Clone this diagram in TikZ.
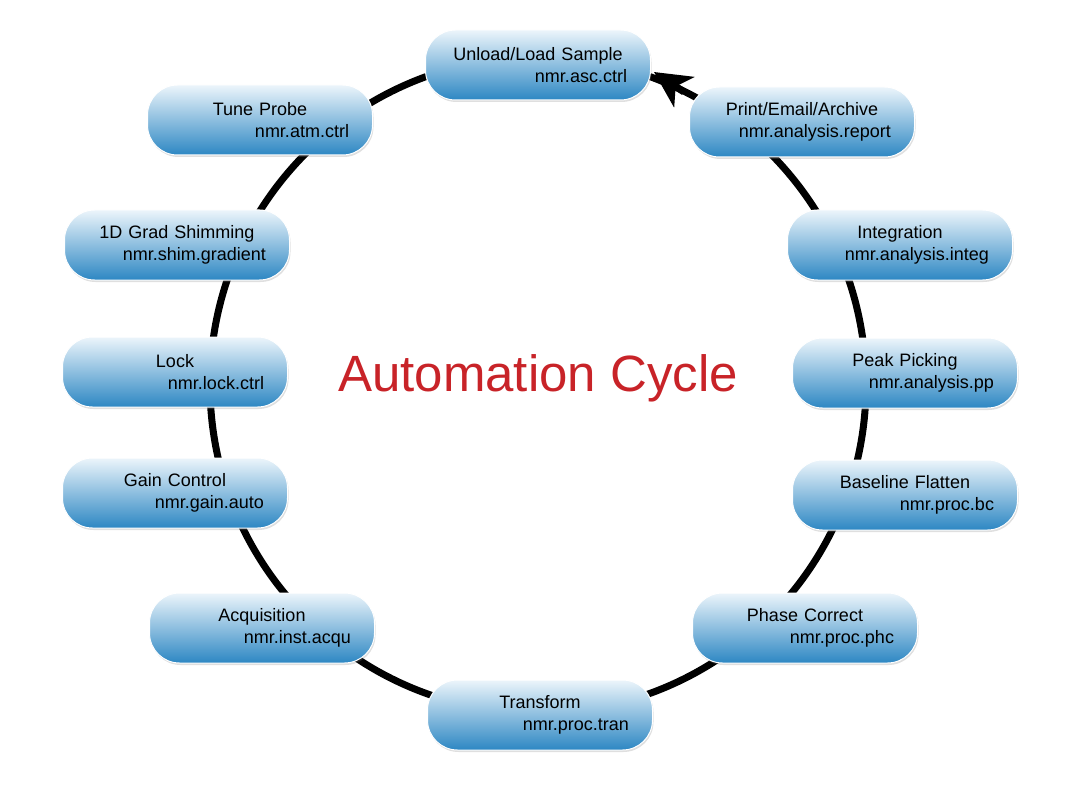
\documentclass[tikz,border=0pt]{standalone}
\usepackage{fontspec}
\setmainfont{Liberation Sans}
\usetikzlibrary{arrows.meta,shadows}
\definecolor{ltop}{RGB}{236,245,251}
\definecolor{lbot}{RGB}{45,135,195}
\definecolor{tred}{RGB}{200,35,40}
\begin{document}
\begin{tikzpicture}[x=1pt,y=-1pt,
  box/.style={rounded corners=30pt,minimum width=225pt,minimum height=70pt,
    top color=ltop,bottom color=lbot,draw=white,line width=1pt,
    drop shadow={shadow xshift=1pt,shadow yshift=-2pt,opacity=0.25},
    align=right,text width=178pt,font=\fontsize{18}{22}\selectfont,inner sep=0pt}]
\useasboundingbox (0,0) rectangle (1080,789);
\draw[line width=7pt] (538,385) circle[radius=328];
\node[box] (unload) at (538,65) {\makebox[178pt][c]{Unload/Load Sample}\\nmr.asc.ctrl};
\node[box] (print) at (802,122) {\makebox[178pt][c]{Print/Email/Archive}\\nmr.analysis.report};
\node[box] (integ) at (900,245) {\makebox[178pt][c]{Integration}\\nmr.analysis.integ};
\node[box] (peak) at (905,373) {\makebox[178pt][c]{Peak Picking}\\nmr.analysis.pp};
\node[box] (base) at (905,495) {\makebox[178pt][c]{Baseline Flatten}\\nmr.proc.bc};
\node[box] (phase) at (805,628) {\makebox[178pt][c]{Phase Correct}\\nmr.proc.phc};
\node[box] (tran) at (540,715) {\makebox[178pt][c]{Transform}\\nmr.proc.tran};
\node[box] (acq) at (262,628) {\makebox[178pt][c]{Acquisition}\\nmr.inst.acqu};
\node[box] (gain) at (175,493) {\makebox[178pt][c]{Gain Control}\\nmr.gain.auto};
\node[box] (lock) at (175,372) {\makebox[178pt][c]{Lock}\\nmr.lock.ctrl};
\node[box] (shim) at (177,245) {\makebox[178pt][c]{1D Grad Shimming}\\nmr.shim.gradient};
\node[box] (tune) at (260,120) {\makebox[178pt][c]{Tune Probe}\\nmr.atm.ctrl};
\node[text=tred,font=\fontsize{51}{58}\selectfont] (title) at (538,378) {Automation Cycle};
\coordinate (as) at (684,92);
\coordinate (ae) at (654,72);
\draw[line width=7pt,-{Stealth[length=36pt,width=36pt,inset=10pt]}] (as) -- (ae);
\end{tikzpicture}
\end{document}
